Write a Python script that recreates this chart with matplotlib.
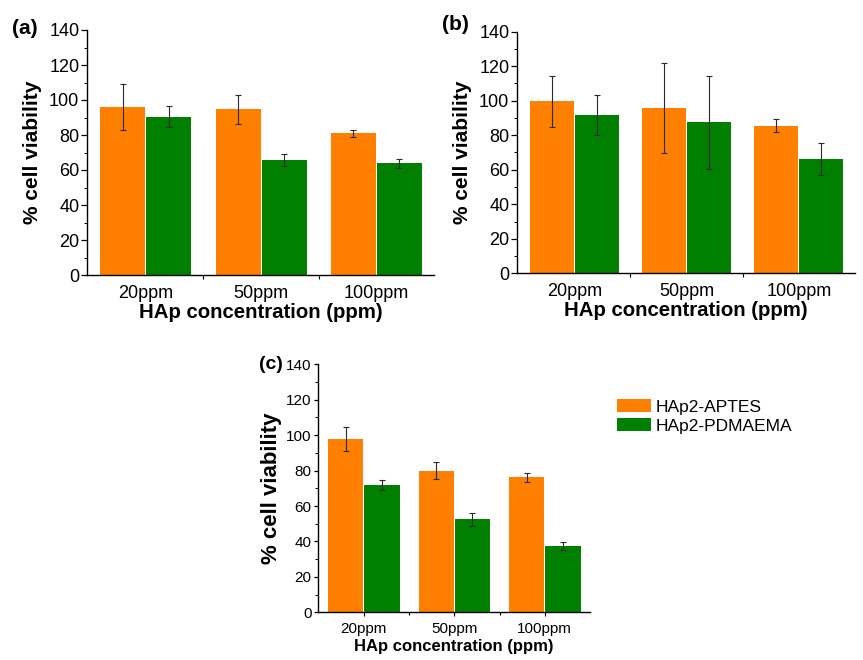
import numpy as np
import matplotlib
matplotlib.use("Agg")
import matplotlib.pyplot as plt
from matplotlib.patches import Patch
from matplotlib.ticker import MultipleLocator, FixedLocator

plt.rcParams['font.family'] = ['Liberation Sans', 'DejaVu Sans']

categories = ["20ppm", "50ppm", "100ppm"]
series_names = ["HAp2-APTES", "HAp2-PDMAEMA"]

# panel (a)
a_aptes = [96.0, 94.7, 81.0]
a_aptes_err = [13.0, 8.2, 2.1]
a_pdmaema = [90.5, 65.6, 63.9]
a_pdmaema_err = [6.1, 3.3, 2.5]

# panel (b)
b_aptes = [99.6, 95.8, 85.5]
b_aptes_err = [15.0, 26.0, 3.8]
b_pdmaema = [91.8, 87.4, 66.0]
b_pdmaema_err = [11.6, 26.7, 9.3]

# panel (c)
c_aptes = [98.0, 79.8, 76.3]
c_aptes_err = [6.8, 4.8, 2.6]
c_pdmaema = [71.7, 52.5, 37.5]
c_pdmaema_err = [2.8, 3.6, 2.3]

ORANGE = "#FF7F00"
GREEN = "#007F00"
W, H = 863, 660

fig = plt.figure(figsize=(W / 100, H / 100), dpi=100)


def rect(l, r, b, t):
    return [l / W, 1 - b / H, (r - l) / W, (b - t) / H]


def panel(box, aptes, aptes_err, pdm, pdm_err, tick_fs, xl_fs, yl_fs,
          centre_ticks, ylpad, xpad, xlpad, ytick_len):
    ax = fig.add_axes(box)
    x = np.arange(len(categories))
    ekw = dict(ecolor="#2a2a2a", elinewidth=0.8, capsize=2.2, capthick=0.8)
    ax.bar(x - 0.2, aptes, 0.39, yerr=aptes_err, color=ORANGE,
           error_kw=ekw, zorder=2)
    ax.bar(x + 0.2, pdm, 0.39, yerr=pdm_err, color=GREEN,
           error_kw=ekw, zorder=2)
    ax.set_xlim(-0.51, 2.5)
    ax.set_ylim(0, 140)
    for s in ("top", "right"):
        ax.spines[s].set_visible(False)
    for s in ("left", "bottom"):
        ax.spines[s].set_linewidth(1.0)
    ax.yaxis.set_major_locator(MultipleLocator(20))
    ax.yaxis.set_minor_locator(MultipleLocator(10))
    ax.tick_params(axis="y", which="major", length=ytick_len, width=0.9,
                   pad=1.5, labelsize=tick_fs)
    ax.tick_params(axis="y", which="minor", length=2, width=0.7)
    ax.set_xticks(x)
    ax.xaxis.set_minor_locator(FixedLocator([0.5, 1.5]))
    if centre_ticks:
        ax.tick_params(axis="x", which="major", length=3, width=0.8)
        ax.tick_params(axis="x", which="minor", length=2, width=0.8)
    else:
        ax.tick_params(axis="x", which="major", length=0)
        ax.tick_params(axis="x", which="minor", length=3, width=0.8)
    ax.set_xticklabels(categories)
    ax.tick_params(axis="x", which="major", pad=xpad, labelsize=tick_fs)
    ax.set_xlabel("HAp concentration (ppm)", fontsize=xl_fs,
                  fontweight="bold", labelpad=xlpad)
    ax.set_ylabel("% cell viability", fontsize=yl_fs, fontweight="bold",
                  labelpad=ylpad)
    return ax


panel(rect(87, 434, 275, 30), a_aptes, a_aptes_err, a_pdmaema, a_pdmaema_err,
      13, 14.7, 15, False, 5, 7, 1, 4)
panel(rect(517, 855, 273.3, 31.7), b_aptes, b_aptes_err, b_pdmaema,
      b_pdmaema_err, 13, 14.7, 15, False, 5, 7, 1, 4)
panel(rect(317.7, 590, 612.3, 364.3), c_aptes, c_aptes_err, c_pdmaema,
      c_pdmaema_err, 11, 12, 16, True, 3, 4, 2, 3)

for lab, px, py, fs in (("(a)", 25, 29, 15), ("(b)", 455, 24, 15),
                        ("(c)", 271, 365, 14)):
    fig.text(px / W, 1 - py / H, lab, fontsize=fs, fontweight="bold",
             ha="center", va="center")

handles = [Patch(facecolor=ORANGE, label=series_names[0]),
           Patch(facecolor=GREEN, label=series_names[1])]
fig.legend(handles=handles, loc="upper left",
           bbox_to_anchor=(617 / W, 1 - 399 / H), frameon=False,
           fontsize=12.5, handlelength=1.95, handleheight=0.8,
           handletextpad=0.25, labelspacing=0.2, borderpad=0,
           borderaxespad=0)

fig.savefig("out.png", dpi=100)
